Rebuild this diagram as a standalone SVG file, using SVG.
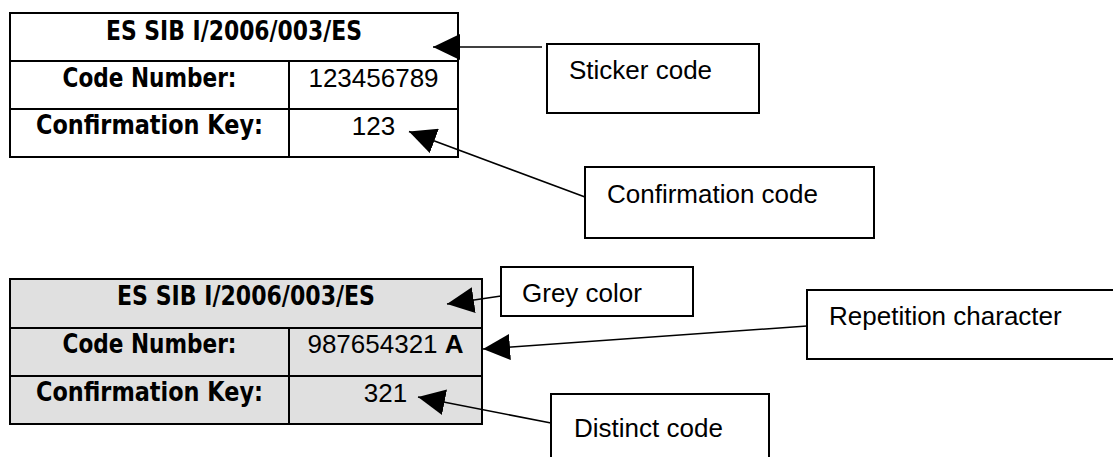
<svg xmlns="http://www.w3.org/2000/svg" width="1113" height="457" viewBox="0 0 1113 457">
  <style>
    .cell { stroke: #000; stroke-width: 2; }
    .plain { fill: #fff; }
    .grey { fill: #e0e0e0; }
    .rule { stroke: #000; stroke-width: 2; fill: none; }
    .head { font-family: "DejaVu Sans Condensed", "DejaVu Sans", "Noto Sans", sans-serif; font-stretch: condensed; font-weight: bold; font-size: 26px; fill: #000; text-anchor: middle; }
    .val { font-family: "Liberation Sans", Arial, sans-serif; font-size: 26px; fill: #000; text-anchor: middle; }
    .note { font-family: "Liberation Sans", Arial, sans-serif; font-size: 26px; fill: #000; }
    .box { fill: #fff; stroke: #000; stroke-width: 2; }
    .link { stroke: #000; stroke-width: 1.6; fill: none; marker-end: url(#tip); }
  </style>
  <defs>
    <marker id="tip" markerUnits="userSpaceOnUse" viewBox="0 0 27 26" markerWidth="27" markerHeight="26" refX="27" refY="13" orient="auto">
      <path d="M0,0 L27,13 L0,26 Z" fill="#000"/>
    </marker>
  </defs>

  <!-- white sticker table -->
  <g id="table-white">
    <rect class="cell plain" x="10" y="13" width="448" height="144"/>
    <path class="rule" d="M10,61 H458 M10,109 H458 M289,61 V157"/>
    <text class="head" x="234" y="40" textLength="256" lengthAdjust="spacingAndGlyphs">ES SIB I/2006/003/ES</text>
    <text class="head" x="149.5" y="87" textLength="174" lengthAdjust="spacingAndGlyphs">Code Number:</text>
    <text class="head" x="149.5" y="134" textLength="227" lengthAdjust="spacingAndGlyphs">Confirmation Key:</text>
    <text class="val" x="373.5" y="87">123456789</text>
    <text class="val" x="373.5" y="135">123</text>
  </g>

  <!-- grey sticker table -->
  <g id="table-grey">
    <rect class="cell grey" x="10" y="279" width="472" height="145" stroke="#222"/>
    <path class="rule" d="M10,328 H482 M10,376 H482 M289,328 V424"/>
    <text class="head" x="246" y="305" textLength="258" lengthAdjust="spacingAndGlyphs">ES SIB I/2006/003/ES</text>
    <text class="head" x="149.5" y="353" textLength="174" lengthAdjust="spacingAndGlyphs">Code Number:</text>
    <text class="head" x="149.5" y="401" textLength="227" lengthAdjust="spacingAndGlyphs">Confirmation Key:</text>
    <text class="val" x="385.5" y="353">987654321 <tspan font-weight="bold">A</tspan></text>
    <text class="val" x="385.5" y="401.5">321</text>
  </g>

  <!-- callout boxes -->
  <g id="note-sticker">
    <rect class="box" x="547" y="44" width="212" height="69"/>
    <text class="note" x="569" y="79">Sticker code</text>
  </g>
  <g id="note-confirmation">
    <rect class="box" x="585" y="167" width="289" height="71"/>
    <text class="note" x="607" y="203">Confirmation code</text>
  </g>
  <g id="note-grey">
    <rect class="box" x="501" y="267" width="192" height="49"/>
    <text class="note" x="522" y="302">Grey color</text>
  </g>
  <g id="note-repetition">
    <rect class="box" x="807" y="290" width="320" height="69"/>
    <text class="note" x="829" y="325">Repetition character</text>
  </g>
  <g id="note-distinct">
    <rect class="box" x="551" y="394" width="218" height="80"/>
    <text class="note" x="574" y="437">Distinct code</text>
  </g>

  <!-- pointers from callouts to the table cells -->
  <g id="connectors">
    <line class="link" x1="542" y1="47" x2="433" y2="47"/>
    <line class="link" x1="585" y1="197" x2="409" y2="131.5"/>
    <line class="link" x1="501" y1="296" x2="447" y2="304"/>
    <line class="link" x1="807" y1="326" x2="483" y2="349"/>
    <line class="link" x1="551" y1="423" x2="418" y2="397"/>
  </g>
</svg>
